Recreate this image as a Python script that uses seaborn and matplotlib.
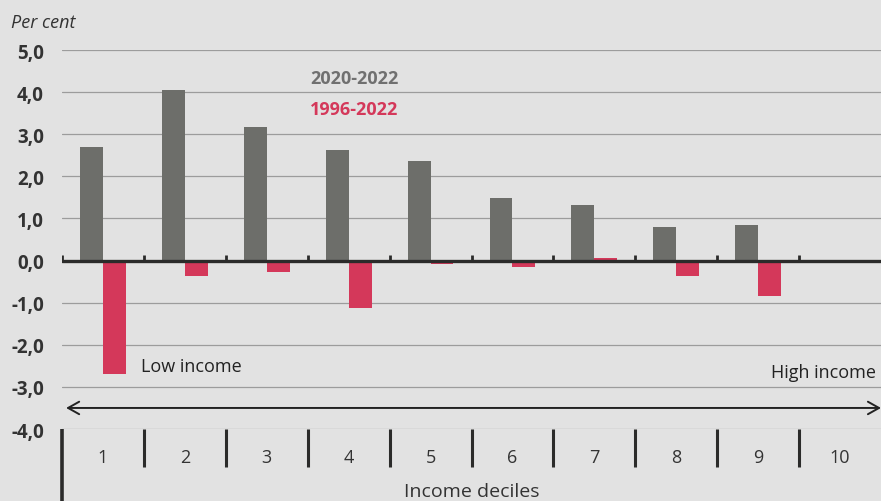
import matplotlib
matplotlib.use("Agg")
from matplotlib import pyplot as plt
import pandas as pd
import seaborn as sns

deciles = ["1", "2", "3", "4", "5", "6", "7", "8", "9", "10"]
recent = [2.70, 4.05, 3.17, 2.63, 2.37, 1.48, 1.31, 0.79, 0.84, 0.0]
longrun = [-2.70, -0.37, -0.28, -1.12, -0.08, -0.16, 0.07, -0.36, -0.84, 0.0]
periods = ["2020-2022", "1996-2022"]
y_ticks = [-4, -3, -2, -1, 0, 1, 2, 3, 4, 5]

GRAY = "#6d6e6a"
RED = "#d4385a"
BG = "#e2e2e2"
DARK = "#2b2b2a"

df = pd.DataFrame({
    "decile": deciles * 2,
    "value": recent + longrun,
    "period": [periods[0]] * len(deciles) + [periods[1]] * len(deciles),
})

sns.set_style("white")
plt.rcParams["font.family"] = ["Open Sans", "DejaVu Sans"]

fig = plt.figure(figsize=(8.81, 5.02), dpi=100, facecolor=BG)
ax = fig.add_axes([62 / 881, 0.1434, 1 - 62 / 881, 0.755])
ax.set_facecolor(BG)

# gridlines
for t in y_ticks:
    if t != 0:
        ax.axhline(t, color="#9c9c9c", lw=0.9, zorder=0)

sns.barplot(
    data=df, x="decile", y="value", hue="period", order=deciles,
    hue_order=periods, palette=[GRAY, RED], saturation=1, width=0.56, gap=0,
    errorbar=None, legend=False, linewidth=0, ax=ax, zorder=2,
)

n = len(deciles)
ax.set_xlim(-0.5, n - 0.5)
ax.set_ylim(-4, 5)

# zero line with small ticks between deciles
ax.axhline(0, color=DARK, lw=2.4, zorder=3)
ax.vlines([k + 0.5 for k in range(-1, n - 1)], 0, 0.13, color=DARK, lw=2, zorder=3)

# bottom category table
ax.vlines([k + 0.5 for k in range(0, n - 1)], -4.9, -4, color=DARK, lw=2.2, clip_on=False)
ax.vlines([-0.5], -5.8, -4, color=DARK, lw=2.6, clip_on=False)

# income arrow
ax.annotate("", xy=(n - 0.5, -3.5), xytext=(-0.45, -3.5),
            arrowprops=dict(arrowstyle="<->,head_length=0.8,head_width=0.45",
                            color="#222222", lw=1.4, shrinkA=0, shrinkB=0))
ax.text(0.465, -2.5, "Low income", fontsize=13, color="#222222", ha="left", va="center")
ax.text(9.44, -2.64, "High income", fontsize=13, color="#222222", ha="right", va="center")

# legend labels
ax.text(3.07, 4.33, periods[0], fontsize=13, fontweight="bold", color="#707070", ha="center", va="center")
ax.text(3.07, 3.6, periods[1], fontsize=13, fontweight="bold", color=RED, ha="center", va="center")

for s in ax.spines.values():
    s.set_visible(False)

ax.set_yticks(y_ticks)
ax.set_yticklabels([f"{t:.1f}".replace(".", ",") for t in y_ticks],
                   fontsize=13.5, fontweight="bold", color="#333333")
ax.tick_params(axis="y", length=0, pad=13)
ax.tick_params(axis="x", length=0, pad=14, labelsize=13, labelcolor="#333333")
ax.set_xlabel("Income deciles", fontsize=14, color="#333333", labelpad=11)
ax.set_ylabel("")

fig.text(0.012, 0.955, "Per cent", fontsize=13, style="italic", color="#333333", va="center")

fig.savefig("out.png", dpi=100, facecolor=BG)
